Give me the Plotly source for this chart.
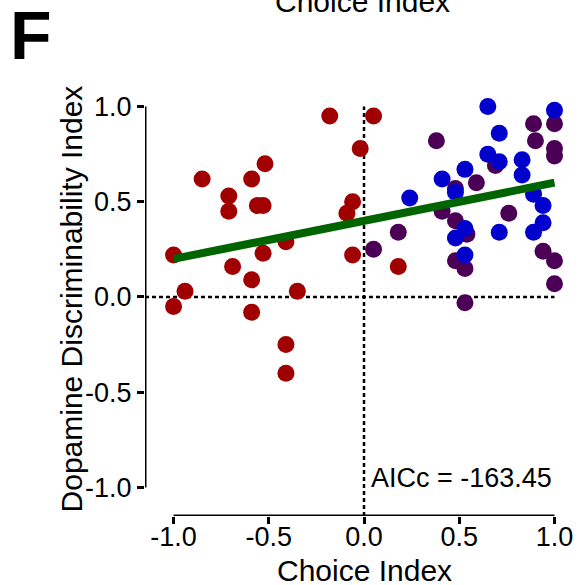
import plotly.graph_objects as go

# ---- data ----
red_x = [-0.18, 0.05, -0.02, -0.52, -0.85, -0.59, -0.71, -0.56, -0.53, -0.71, -0.06, -0.09,
         -0.41, -0.53, -1.00, -0.06, -0.69, -0.59, -0.94, -0.35, -1.00, -0.59, -0.41, -0.41, 0.18]
red_y = [0.95, 0.95, 0.78, 0.70, 0.62, 0.62, 0.53, 0.48, 0.48, 0.45, 0.50, 0.44,
         0.29, 0.23, 0.22, 0.22, 0.16, 0.09, 0.03, 0.03, -0.05, -0.08, -0.25, -0.40, 0.16]

purple_x = [0.89, 1.00, 0.38, 0.90, 1.00, 1.00, 0.69, 0.59, 0.48, 0.41, 0.48, 0.76, 0.54,
            0.18, 0.05, 0.48, 0.53, 0.94, 1.00, 1.00, 0.53]
purple_y = [0.91, 0.91, 0.82, 0.82, 0.78, 0.74, 0.69, 0.60, 0.57, 0.45, 0.40, 0.44, 0.33,
            0.34, 0.25, 0.19, 0.15, 0.24, 0.19, 0.07, -0.03]

blue_x = [0.65, 1.00, 0.71, 0.65, 0.71, 0.83, 0.83, 0.53, 0.41, 0.48, 0.24, 0.89, 0.94,
          0.94, 0.89, 0.71, 0.53, 0.48, 0.53]
blue_y = [1.00, 0.98, 0.86, 0.75, 0.71, 0.72, 0.64, 0.67, 0.62, 0.55, 0.52, 0.54, 0.48,
          0.39, 0.34, 0.34, 0.36, 0.31, 0.22]

fit_x = [-1.0, 1.0]
fit_y = [0.20, 0.60]

tick_vals = [-1.0, -0.5, 0.0, 0.5, 1.0]
tick_text = ["-1.0", "-0.5", "0.0", "0.5", "1.0"]

FONT = "Liberation Sans, Arial, sans-serif"

fig = go.Figure()
for xs, ys, col in [(red_x, red_y, "#A00000"), (purple_x, purple_y, "#4B0055"), (blue_x, blue_y, "#0000CC")]:
    fig.add_trace(go.Scatter(x=xs, y=ys, mode="markers", cliponaxis=False,
                             marker=dict(size=17, color=col, line=dict(width=0)),
                             showlegend=False, hoverinfo="skip"))
fig.add_trace(go.Scatter(x=fit_x, y=fit_y, mode="lines", cliponaxis=False,
                         line=dict(color="#006400", width=8), showlegend=False))

XMIN, XMAX = -1.15, 1.05
YMIN, YMAX = -1.15, 1.05

shapes = [
    dict(type="line", xref="x", yref="y", x0=-1, x1=1, y0=YMIN, y1=YMIN, line=dict(color="black", width=3)),
    dict(type="line", xref="x", yref="y", x0=XMIN, x1=XMIN, y0=-1, y1=1, line=dict(color="black", width=3)),
    dict(type="line", xref="x", yref="y", x0=XMIN, x1=1, y0=0, y1=0, layer="below",
         line=dict(color="black", width=2.5, dash="4px,3px")),
    dict(type="line", xref="x", yref="y", x0=0, x1=0, y0=YMIN, y1=1, layer="below",
         line=dict(color="black", width=2.5, dash="4px,3px")),
]

axis_common = dict(tickvals=tick_vals, ticktext=tick_text, ticks="outside", ticklen=7, tickwidth=3,
                   tickcolor="black", showline=False, showgrid=False, zeroline=False, automargin=False,
                   tickfont=dict(family=FONT, size=27, color="black"))

fig.update_layout(
    template="none",
    width=582, height=585,
    margin=dict(l=145, r=18, t=97, b=69, pad=0),
    paper_bgcolor="white", plot_bgcolor="white",
    xaxis=dict(range=[XMIN, XMAX], ticklabelstandoff=-10, **axis_common),
    yaxis=dict(range=[YMIN, YMAX], **axis_common),
    shapes=shapes,
    annotations=[
        dict(text="AICc = -163.45", xref="x", yref="y", x=0.025, y=-1.04, xanchor="left", yanchor="bottom",
             showarrow=False, font=dict(family=FONT, size=27, color="black")),
        dict(text="Choice Index", xref="paper", yref="paper", x=0.524, y=-0.174, xanchor="center",
             yanchor="bottom", showarrow=False, font=dict(family=FONT, size=30, color="black")),
        dict(text="Choice Index", xref="paper", yref="paper", x=0.518, y=1.1826, xanchor="center",
             yanchor="bottom", showarrow=False, font=dict(family=FONT, size=30, color="black")),
        dict(text="Dopamine Discriminability Index", xref="paper", yref="paper", x=-0.1754, y=0.518,
             xanchor="center", yanchor="middle", textangle=-90, showarrow=False,
             font=dict(family=FONT, size=30, color="black")),
        dict(text="<b>F</b>", xref="paper", yref="paper", x=-0.327, y=1.2446, xanchor="left",
             yanchor="top", showarrow=False, font=dict(family=FONT, size=68, color="black")),
    ],
)

fig.write_html("out.html")
